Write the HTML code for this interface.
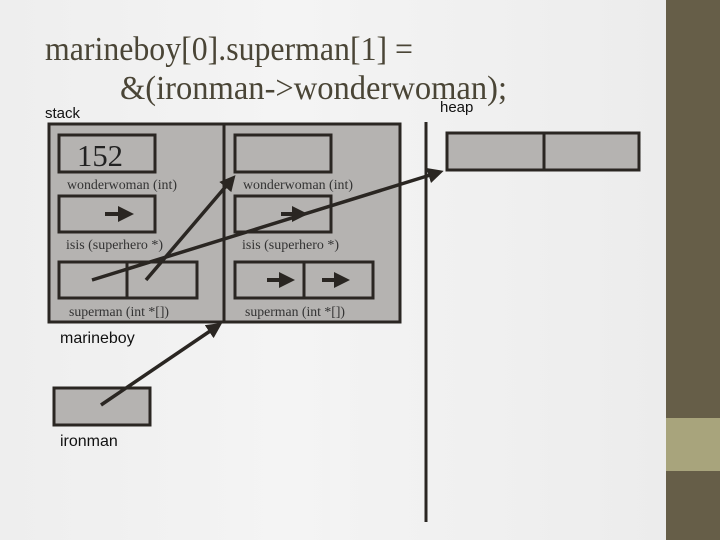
<!DOCTYPE html>
<html><head><meta charset="utf-8"><style>
html,body{margin:0;padding:0;width:720px;height:540px;overflow:hidden}
body{background:linear-gradient(90deg,#eeeeee,#f4f4f4 40%,#ebebeb)}
</style></head><body>
<svg width="720" height="540" xmlns="http://www.w3.org/2000/svg" style="position:absolute;left:0;top:0">
<defs>
<marker id="ah" markerWidth="4" markerHeight="4" refX="3" refY="2" orient="auto" markerUnits="strokeWidth">
<path d="M0,0 L4,2 L0,4 z" fill="#2a2622"/></marker>
<marker id="ah2" markerWidth="4.5" markerHeight="4.5" refX="3.4" refY="2.25" orient="auto" markerUnits="strokeWidth">
<path d="M0,0 L4.5,2.25 L0,4.5 z" fill="#2a2622"/></marker>
</defs>
<rect x="666" y="0" width="54" height="540" fill="#665e48"/>
<rect x="666" y="418" width="54" height="53" fill="#a8a47c"/>
<g font-family="Liberation Serif, serif" fill="#4a4536" font-size="34">
<text x="45" y="60" textLength="368" lengthAdjust="spacingAndGlyphs">marineboy[0].superman[1] =</text>
<text x="120" y="99" textLength="387" lengthAdjust="spacingAndGlyphs">&amp;(ironman-&gt;wonderwoman);</text>
</g>
<g font-family="Liberation Sans, sans-serif" fill="#111" font-size="15">
<text x="45" y="118">stack</text>
<text x="440" y="112">heap</text>
<text x="60" y="343" font-size="16">marineboy</text>
<text x="60" y="446" font-size="16">ironman</text>
</g>
<g stroke="#2a2622" stroke-width="3" fill="#b5b3b1">
<rect x="49" y="124" width="351" height="198"/>
<line x1="224" y1="124" x2="224" y2="322"/>
<rect x="59" y="135" width="96" height="37"/>
<rect x="59" y="196" width="96" height="36"/>
<rect x="59" y="262" width="68" height="36"/>
<rect x="127" y="262" width="70" height="36"/>
<rect x="235" y="135" width="96" height="37"/>
<rect x="235" y="196" width="96" height="36"/>
<rect x="235" y="262" width="69" height="36"/>
<rect x="304" y="262" width="69" height="36"/>
<rect x="447" y="133" width="97" height="37"/>
<rect x="544" y="133" width="95" height="37"/>
<rect x="54" y="388" width="96" height="37"/>
</g>
<line x1="426" y1="122" x2="426" y2="522" stroke="#2a2622" stroke-width="3"/>
<g font-family="Liberation Serif, serif" fill="#333" font-size="13.5" lengthAdjust="spacingAndGlyphs">
<text x="67" y="189" textLength="110" lengthAdjust="spacingAndGlyphs">wonderwoman (int)</text>
<text x="243" y="189" textLength="110" lengthAdjust="spacingAndGlyphs">wonderwoman (int)</text>
<text x="66" y="249" textLength="97" lengthAdjust="spacingAndGlyphs">isis (superhero *)</text>
<text x="242" y="249" textLength="97" lengthAdjust="spacingAndGlyphs">isis (superhero *)</text>
<text x="69" y="316" textLength="100" lengthAdjust="spacingAndGlyphs">superman (int *[])</text>
<text x="245" y="316" textLength="100" lengthAdjust="spacingAndGlyphs">superman (int *[])</text>
</g>
<text x="77" y="166" font-family="Liberation Serif, serif" font-size="31" fill="#222" textLength="46" lengthAdjust="spacingAndGlyphs">152</text>
<g stroke="#2a2622" stroke-width="4" fill="none" marker-end="url(#ah)">
<line x1="105" y1="214" x2="130" y2="214"/>
<line x1="281" y1="214" x2="304" y2="214"/>
<line x1="267" y1="280" x2="291" y2="280"/>
<line x1="322" y1="280" x2="346" y2="280"/>
</g>
<g stroke="#2a2622" stroke-width="3.5" fill="none" marker-end="url(#ah2)">
<line x1="92" y1="280" x2="440" y2="172"/>
<line x1="146" y1="280" x2="233" y2="178"/>
<line x1="101" y1="405" x2="219" y2="325"/>
</g>
</svg>
</body></html>
